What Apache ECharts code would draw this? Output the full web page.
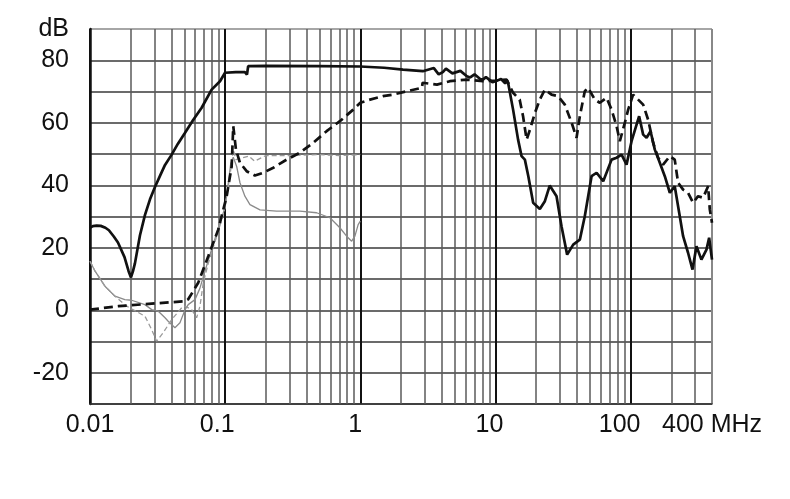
<!DOCTYPE html>
<html><head><meta charset="utf-8">
<script src="https://cdn.jsdelivr.net/npm/echarts@6/dist/echarts.min.js"></script>
<style>html,body{margin:0;padding:0;background:#fff}#c{width:790px;height:499px}</style>
</head><body><div id="c"></div>
<script>
// X tick labels (log axis, MHz)
const xTickLabels = {'-2': '0.01', '-1': '0.1', '0': '1', '1': '10', '2': '100'};
const xMaxLabel = '400 MHz';
const yUnitLabel = 'dB';
// minor vertical grid lines (frequencies, MHz)
const minorGridFreqs = [0.02,0.03,0.04,0.05,0.06,0.07,0.08,0.09,
  0.2,0.3,0.4,0.5,0.6,0.7,0.8,0.9, 2,3,4,5,6,7,8,9, 20,30,40,50,60,70,80,90, 200,300];

// Thick solid black curve [MHz, dB]
const solidBlack = [[0.01,26.4],[0.0105,26.9],[0.0112,27.1],[0.012,27.0],[0.013,26.4],[0.0138,25.6],[0.015,23.6],[0.0161,21.7],[0.018,17],[0.0193,12.5],[0.0201,10.5],[0.0208,12.5],[0.0215,15],[0.02343,24],[0.02552,30.5],[0.02779,35.5],[0.0303,39.5],[0.03295,43],[0.0359,46.5],[0.0402,49.8],[0.04475,53.3],[0.0505,56.8],[0.0578,60.8],[0.067,64.8],[0.0794,70.6],[0.0916,73.3],[0.0998,76],[0.12,76.2],[0.14,76.2],[0.145,75.4],[0.148,78.1],[0.2,78.2],[0.5,78.1],[1.0,78],[1.5,77.6],[2.07,77],[2.9,76.5],[3.5,77.5],[3.8,75.5],[4.08,76.2],[4.3,77.3],[4.8,75.8],[5.5,76.6],[6.14,74.9],[6.5,74.5],[7,75.5],[7.7,74],[8.07,73.8],[8.5,74.6],[9.5,73],[10,73.3],[11,74],[11.8,72.6],[12.2,73.5],[12.4,72.8],[13.5,64.2],[14.7,54.6],[15.6,49.3],[16.5,48.2],[17.5,42.9],[19.0,34.4],[21.3,32.4],[23.2,34.9],[25.2,39.9],[28.3,36.5],[30.8,26.9],[33.9,17.8],[37.6,21],[42.1,22.6],[45.8,30.1],[51.4,42.9],[56.0,44],[62.7,41.3],[72.3,48.2],[78.7,48.8],[85.7,49.8],[93.3,46.6],[101.6,54.1],[115.6,62.1],[123.8,56.2],[131.2,55.2],[140.4,57.3],[151,51.4],[164.4,47.2],[179,42.9],[195,37.6],[212,39.7],[231,30.1],[244.5,23.7],[266,18.4],[287,13],[307,20.5],[334,16.2],[364,19.4],[381,23.2],[400,16.2]];

// Thick dashed black curve [MHz, dB]
const dashedBlack = [[0.01,0.2],[0.0162,1.3],[0.0286,2.1],[0.0505,2.9],[0.0533,3.5],[0.0632,8.8],[0.075,17.3],[0.0889,25.8],[0.0915,28],[0.1026,36.5],[0.1117,46],[0.1148,58.9],[0.1202,51.4],[0.1287,47.2],[0.1442,44.5],[0.166,43.1],[0.1914,44],[0.227,45.6],[0.285,48.2],[0.357,50.4],[0.449,53.6],[0.563,57.3],[0.706,60.5],[0.886,64.2],[1.0,66.4],[1.18,67.4],[1.47,68.5],[1.74,69],[2.21,70.1],[2.86,71.2],[2.89,72.8],[3.69,72.2],[4.6,73.3],[6.14,73.8],[8.07,73.3],[10,73.5],[12.1,73.8],[13.5,69.6],[15.1,67.4],[16.0,62.1],[17.0,54.6],[18.0,57.8],[19.6,63.2],[21.3,67.4],[23.2,70.6],[26.0,69],[29.1,68.5],[32.6,65.8],[36.6,60],[39.8,55.2],[42.1,62.1],[45.8,70.1],[48.5,71.2],[54.3,67.4],[59.2,66.4],[66.3,68],[72.3,64.2],[78.7,58.9],[83.2,54.1],[90.6,60],[95.9,64.2],[104.3,69],[113.7,67.4],[123.8,65.8],[134.7,61],[146.7,53.6],[159.7,48.8],[173.9,46.6],[195,49.3],[212,48.2],[224.5,40.8],[244.5,38.6],[266,37.6],[290,34.4],[315.6,36.5],[343.8,36],[374.3,39.7],[385.4,32.2],[400,28]];

// Thin gray solid curve [MHz, dB]
const graySolid = [[0.01,15.7],[0.0109,12.5],[0.0129,7.7],[0.0153,4.5],[0.0181,3.4],[0.0203,3.2],[0.0255,1.8],[0.0286,0.2],[0.032,-0.3],[0.0359,-2.4],[0.0379,-3.5],[0.0425,-5.6],[0.0463,-4],[0.0505,0.2],[0.0533,1.8],[0.0598,3.4],[0.065,7],[0.075,16],[0.09,27],[0.1,33],[0.105,40],[0.11,47],[0.1148,49],[0.1217,46],[0.1287,40.8],[0.14,36.5],[0.1526,33.8],[0.181,32.1],[0.24,31.7],[0.357,31.7],[0.475,31.2],[0.596,29.6],[0.706,26.4],[0.792,23.7],[0.863,22.1],[0.912,23.7],[0.964,27.4],[1.0,28.5]];

// Thin gray dashed curve [MHz, dB]
const grayDashed = [[0.01,15.7],[0.0109,12.5],[0.0129,7.7],[0.0153,4.5],[0.0187,1.3],[0.0255,-1.9],[0.0286,-6.2],[0.0311,-9.9],[0.0348,-7.2],[0.0402,-3],[0.0477,0.8],[0.0505,1.3],[0.0565,0.2],[0.0615,-2.4],[0.0651,1.3],[0.0689,8.8],[0.075,15],[0.09,26],[0.1,33],[0.11,45],[0.115,51.4],[0.12,48.2],[0.135,48.8],[0.15,49.3],[0.165,47.7],[0.2,49.5],[0.3,49.5],[0.5,49.8],[0.7,49.5],[1.0,49.8]];

const FONT = 'Liberation Sans, Arial, sans-serif';
const chart = echarts.init(document.getElementById('c'), null, {renderer: 'canvas'});

const yLineColors = [];
for (let v = -30; v <= 90; v += 10) yLineColors.push(v === 90 ? '#888' : '#3a3a3a');

// small leftward nudges of some x labels (right padding, px)
const labelStyle = (pad) => ({fontFamily: FONT, fontSize: 25, color: '#111', padding: [0, pad, 0, 0]});
const xLabelRich = {p0: labelStyle(0), p10: labelStyle(10), p12: labelStyle(12), p16: labelStyle(16), p22: labelStyle(22)};
const xLabelStyleKey = {'0.01': 'p0', '0.1': 'p16', '1': 'p10', '10': 'p12', '100': 'p22'};

chart.setOption({
  animation: false,
  backgroundColor: '#fff',
  grid: {left: 90, right: 78, top: 29, bottom: 95, containLabel: false},
  xAxis: {
    type: 'log', logBase: 10, min: 0.01, max: 400,
    axisLine: {show: true, onZero: false, lineStyle: {color: '#333', width: 1.5}},
    axisTick: {show: false},
    splitLine: {show: true, lineStyle: {color: ['#111','#111','#111','#111','#111','#888'], width: 2}},
    axisLabel: {
      show: true, margin: 9, color: '#111', fontFamily: FONT, fontSize: 25,
      showMinLabel: true, showMaxLabel: true, hideOverlap: false,
      rich: xLabelRich,
      formatter: function (v) {
        if (v > 300) return '{p0|' + xMaxLabel + '}';
        const t = xTickLabels[String(Math.round(Math.log10(v)))] || '';
        return t ? '{' + xLabelStyleKey[t] + '|' + t + '}' : '';
      }
    }
  },
  yAxis: {
    type: 'value', min: -30, max: 90, interval: 10,
    axisLine: {show: true, onZero: false, lineStyle: {color: '#111', width: 2.5}},
    axisTick: {show: false},
    splitLine: {show: true, lineStyle: {color: yLineColors, width: 1.5}},
    axisLabel: {
      margin: 21, color: '#111', fontFamily: FONT, fontSize: 25,
      formatter: function (v) {
        if (v === 90) return yUnitLabel;
        if (v % 20 === 0) return String(v);
        return '';
      }
    }
  },
  series: [
    {
      type: 'line', data: graySolid, showSymbol: false, symbol: 'none', silent: true, z: 3,
      lineStyle: {color: '#8a8a8a', width: 1.3, type: 'solid'},
      markLine: {
        silent: true, symbol: ['none', 'none'], label: {show: false}, z: 1, animation: false,
        lineStyle: {color: '#5a5a5a', width: 1.5, type: 'solid'},
        emphasis: {disabled: true},
        data: minorGridFreqs.map(f => ({xAxis: f}))
      }
    },
    {
      type: 'line', data: grayDashed, showSymbol: false, symbol: 'none', silent: true, z: 3,
      lineStyle: {color: '#9a9a9a', width: 1.3, type: [5, 3]}
    },
    {
      type: 'line', data: dashedBlack, showSymbol: false, symbol: 'none', silent: true, z: 4,
      lineStyle: {color: '#111', width: 2.7, type: [9, 5]}
    },
    {
      type: 'line', data: solidBlack, showSymbol: false, symbol: 'none', silent: true, z: 5,
      lineStyle: {color: '#111', width: 2.7, type: 'solid'}
    }
  ]
});
</script>
</body></html>
